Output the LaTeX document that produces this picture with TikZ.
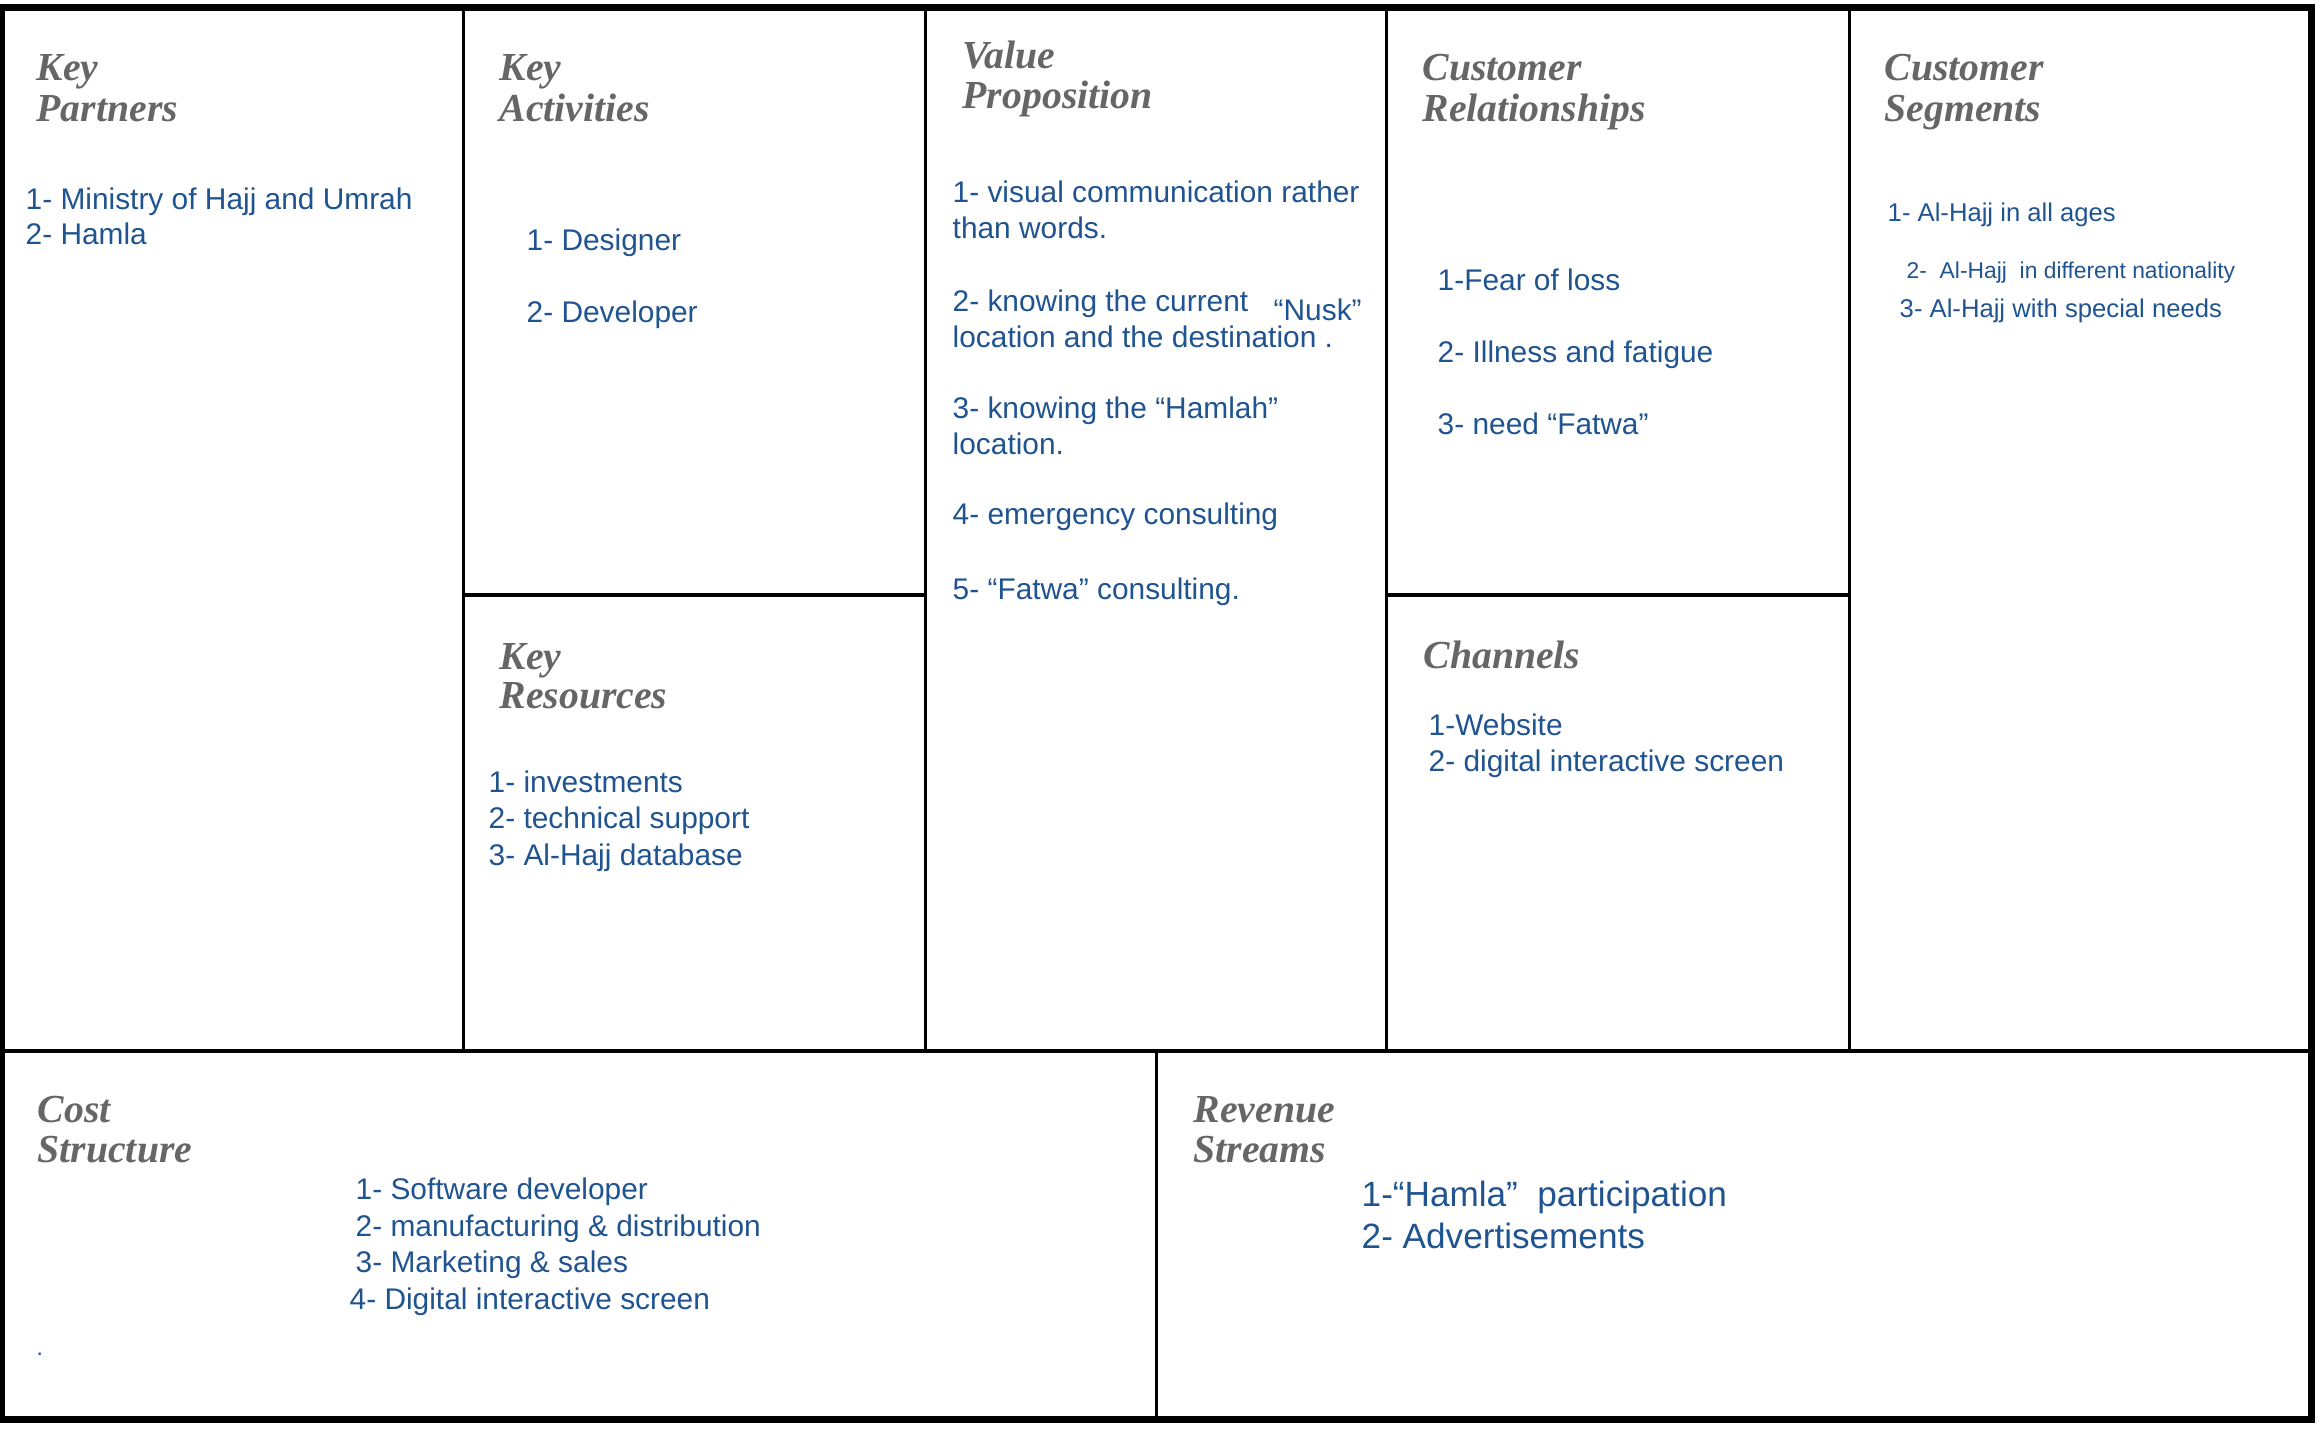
\documentclass[tikz,border=0pt]{standalone}
\usepackage{fontspec}
\setmainfont{Liberation Sans}
\newfontfamily\headfamily{Liberation Serif}
\usetikzlibrary{positioning,calc}
\definecolor{headgray}{RGB}{102,102,102}
\definecolor{itemblue}{RGB}{32,84,144}

\begin{document}
\begin{tikzpicture}[x=0.1mm, y=-0.1mm,
    head/.style={anchor=base west, inner sep=0pt, text=headgray, font=\headfamily\bfseries\itshape\fontsize{11.3}{12}\selectfont},
    item/.style={anchor=base west, inner sep=0pt, text=itemblue, font=\fontsize{8.5}{10}\selectfont},
    small/.style={item, font=\fontsize{7.3}{9}\selectfont},
    tiny/.style={item, font=\fontsize{6.5}{8}\selectfont},
    big/.style={item, font=\fontsize{10}{12}\selectfont},
    grid/.style={line width=0.85pt},
    frame/.style={line width=2pt}]
\useasboundingbox (0,0) rectangle (2320,1428);

% canvas lines
\draw[grid] (463,7) -- (463,1052);
\draw[grid] (925,7) -- (925,1052);
\draw[grid] (1386,7) -- (1386,1052);
\draw[grid] (1849,7) -- (1849,1052);
\draw[grid, line width=1.1pt] (463,595) -- (925,595);
\draw[grid, line width=1.1pt] (1386,595) -- (1849,595);
\draw[grid, line width=1.1pt] (0,1051) -- (2311,1051);
\draw[grid] (1156,1051) -- (1156,1419);
\draw[frame] (0,7.5) -- (2315,7.5);
\draw[frame] (0,1419.5) -- (2315,1419.5);
\draw[frame] (2311.5,4) -- (2311.5,1423);
\draw[line width=1.4pt] (2.5,4) -- (2.5,1423);

% key partners
\node[head] (kp1) at (36,81) {Key};
\node[head] (kp2) at (36,122) {Partners};
\node[item] (kpa) at (25,210) {1- Ministry of Hajj and Umrah};
\node[item] (kpb) at (25,245) {2- Hamla};

% key activities
\node[head] (ka1) at (499,81) {Key};
\node[head] (ka2) at (499,122) {Activities};
\node[item] (kaa) at (526,251) {1- Designer};
\node[item] (kab) at (526,323) {2- Developer};

% key resources
\node[head] (kr1) at (499,669) {Key};
\node[head] (kr2) at (499,708) {Resources};
\node[item] (kra) at (488,792) {1- investments};
\node[item] (krb) at (488,828) {2- technical support};
\node[item] (krc) at (488,865) {3- Al-Hajj database};

% value proposition
\node[head] (vp1) at (962,69) {Value};
\node[head] (vp2) at (962,109) {Proposition};
\node[item] (vpa) at (952,203) {1- visual communication rather};
\node[item] (vpa2) at (952,239) {than words.};
\node[item] (vpb) at (952,311) {2- knowing the current};
\node[item] (vpb2) at (952,347) {location and the destination .};
\node[item] (nusk) at (1273,320) {“Nusk”};
\node[item] (vpc) at (952,419) {3- knowing the “Hamlah”};
\node[item] (vpc2) at (952,454) {location.};
\node[item] (vpd) at (952,524) {4- emergency consulting};
\node[item] (vpe) at (952,599) {5- “Fatwa” consulting.};

% customer relationships
\node[head] (cr1) at (1422,81) {Customer};
\node[head] (cr2) at (1422,122) {Relationships};
\node[item] (cra) at (1437,291) {1-Fear of loss};
\node[item] (crb) at (1437,362) {2- Illness and fatigue};
\node[item] (crc) at (1437,434) {3- need “Fatwa”};

% channels
\node[head] (ch1) at (1423,668) {Channels};
\node[item] (cha) at (1428,735) {1-Website};
\node[item] (chb) at (1428,771) {2- digital interactive screen};

% customer segments
\node[head] (cs1) at (1884,81) {Customer};
\node[head] (cs2) at (1884,122) {Segments};
\node[small] (csa) at (1887,222) {1- Al-Hajj in all ages};
\node[tiny] (csb) at (1906,279) {2-\ \ Al-Hajj\ \ in different nationality};
\node[small] (csc) at (1899,318) {3- Al-Hajj with special needs};

% cost structure
\node[head] (cst1) at (37,1122) {Cost};
\node[head] (cst2) at (37,1162) {Structure};
\node[item] (csta) at (355,1199) {1- Software developer};
\node[item] (cstb) at (355,1236) {2- manufacturing \& distribution};
\node[item] (cstc) at (355,1272) {3- Marketing \& sales};
\node[item] (cstd) at (349,1309) {4- Digital interactive screen};
\node[tiny] (dot) at (36,1355) {.};

% revenue streams
\node[head] (rs1) at (1193,1122) {Revenue};
\node[head] (rs2) at (1193,1162) {Streams};
\node[big] (rsa) at (1361,1206) {1-“Hamla”\ \ participation};
\node[big] (rsb) at (1361,1248) {2- Advertisements};
\end{tikzpicture}
\end{document}
